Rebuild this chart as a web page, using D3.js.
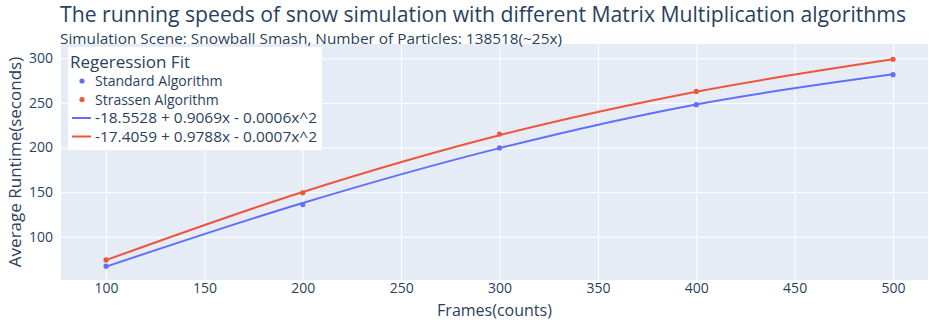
<!DOCTYPE html>
<html><head><meta charset="utf-8">
<script src="https://cdn.jsdelivr.net/npm/d3@7"></script>
<style>body{margin:0;background:#fff}svg{display:block}text{font-family:"Open Sans",sans-serif}</style>
</head><body><svg id="c" width="929" height="320"></svg>
<script>
const frames = [100, 200, 300, 400, 500];
const standardRuntime = [67, 136, 199.5, 248, 281.6];
const strassenRuntime = [74, 149.2, 215, 262.8, 298.9];
const standardFit = [66.5, 137.8, 199.3, 248.3, 282];
const strassenFit = [73.8, 150.2, 213.8, 262.5, 298.8];
const xTicks = [100, 150, 200, 250, 300, 350, 400, 450, 500];
const yTicks = [100, 150, 200, 250, 300];
const seriesNames = ["Standard Algorithm", "Strassen Algorithm",
  "-18.5528 + 0.9069x - 0.0006x^2", "-17.4059 + 0.9788x - 0.0007x^2"];
const colors = ["#636EFA", "#EF553B"];
const ink = "#2a3f5f";

const svg = d3.select("#c");
const L = 61, R = 928, T = 44, B = 280;
const x = d3.scaleLinear().domain([77.1, 517.8]).range([L, R]);
const y = d3.scaleLinear().domain([51.5, 316]).range([B, T]);

svg.append("rect").attr("x", L).attr("y", T).attr("width", R - L).attr("height", B - T).attr("fill", "#E5ECF6");

const gx = svg.append("g").attr("transform", `translate(0,${B})`)
  .call(d3.axisBottom(x).tickValues(xTicks).tickSize(-(B - T)).tickPadding(3));
const gy = svg.append("g").attr("transform", `translate(${L},0)`)
  .call(d3.axisLeft(y).tickValues(yTicks).tickSize(-(R - L)).tickPadding(8));
[gx, gy].forEach(g => {
  g.select(".domain").remove();
  g.selectAll(".tick line").attr("stroke", "#fff").attr("stroke-width", 1);
  g.selectAll(".tick text").attr("fill", ink).attr("font-size", 14).attr("font-family", "'Open Sans',sans-serif");
});

const line = d3.line().x((d, i) => x(frames[i])).y(d => y(d)).curve(d3.curveMonotoneX);
[standardFit, strassenFit].forEach((s, k) => {
  svg.append("path").datum(s).attr("d", line).attr("fill", "none")
    .attr("stroke", colors[k]).attr("stroke-width", 2);
});
[standardRuntime, strassenRuntime].forEach((s, k) => {
  svg.append("g").selectAll("circle").data(s).join("circle")
    .attr("cx", (d, i) => x(frames[i])).attr("cy", d => y(d)).attr("r", 2.6)
    .attr("fill", colors[k]);
});

// Titles
svg.append("text").attr("x", 60).attr("y", 22).attr("font-size", 21).attr("fill", ink)
  .attr("textLength", 846).attr("lengthAdjust", "spacingAndGlyphs")
  .text("The running speeds of snow simulation with different Matrix Multiplication algorithms");
svg.append("text").attr("x", 60).attr("y", 44).attr("font-size", 14.5).attr("fill", ink)
  .attr("textLength", 502).attr("lengthAdjust", "spacingAndGlyphs")
  .text("Simulation Scene: Snowball Smash, Number of Particles: 138518(~25x)");

svg.append("text").attr("x", (L + R) / 2).attr("y", 316).attr("text-anchor", "middle")
  .attr("font-size", 16).attr("fill", ink).text("Frames(counts)");
svg.append("text").attr("transform", `translate(21,${(T + B) / 2}) rotate(-90)`).attr("text-anchor", "middle")
  .attr("font-size", 17).attr("fill", ink).text("Average Runtime(seconds)");

// Legend
const lg = svg.append("g");
lg.append("rect").attr("x", 68).attr("y", 47).attr("width", 254).attr("height", 103).attr("fill", "#fff");
lg.append("text").attr("x", 70).attr("y", 68).attr("font-size", 17).attr("fill", ink).text("Regeression Fit");
const rowY = [86, 104.5, 123, 141.5];
seriesNames.forEach((n, i) => {
  const c = colors[i % 2];
  if (i < 2) {
    lg.append("circle").attr("cx", 82).attr("cy", rowY[i] - 5).attr("r", 2.6).attr("fill", c);
  } else {
    lg.append("line").attr("x1", 72).attr("x2", 91).attr("y1", rowY[i] - 5).attr("y2", rowY[i] - 5)
      .attr("stroke", c).attr("stroke-width", 2);
  }
  const t = lg.append("text").attr("x", 95).attr("y", rowY[i]).attr("font-size", i < 2 ? 14 : 15).attr("fill", ink).text(n);
  if (i >= 2) t.attr("textLength", 222).attr("lengthAdjust", "spacingAndGlyphs");
});
</script></body></html>
